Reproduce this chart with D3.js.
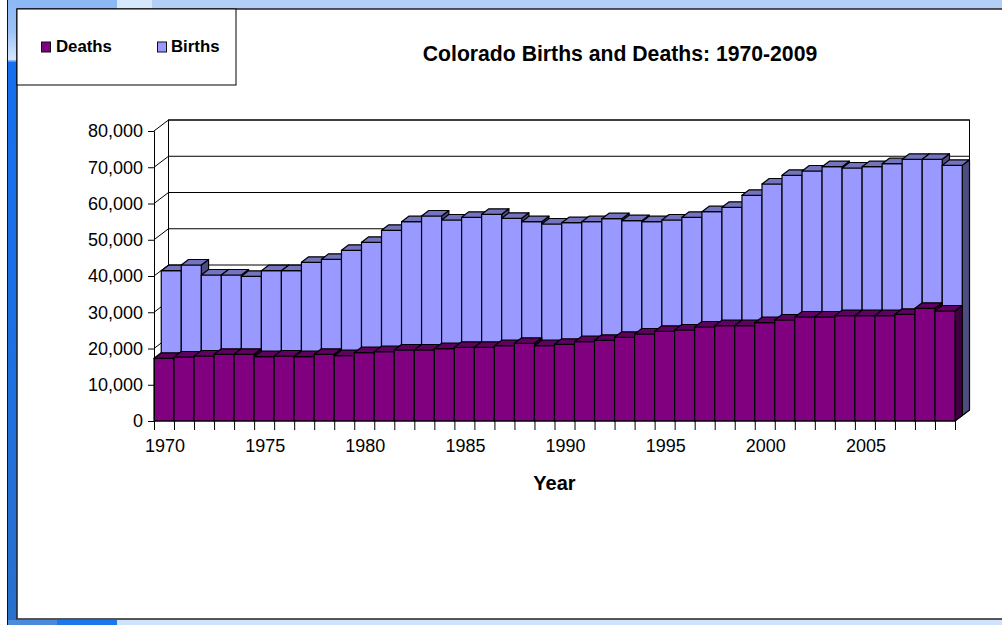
<!DOCTYPE html>
<html><head><meta charset="utf-8">
<script src="https://cdn.jsdelivr.net/npm/d3@7"></script>
<style>html,body{margin:0;padding:0;background:#fff;overflow:hidden}svg{display:block}text{font-family:"Liberation Sans",Arial,sans-serif;fill:#000}</style>
</head><body><svg id="c" width="1002" height="625"></svg>
<script>
const years = d3.range(1970, 2010);
const deaths = [17300,17655,17930,18400,18400,17740,17930,17740,18400,18010,18840,19120,19590,19590,19945,20330,20330,20770,21430,20770,21160,21880,22260,23090,24000,24745,25100,25930,26290,26290,27120,27860,28690,28690,29050,29050,29050,29430,31090,30345];
const births = [39945,41517,38758,38758,38400,39945,39945,42260,43090,45570,47780,51090,53460,55030,53930,54675,55500,54400,53460,52830,53190,53460,54290,53740,53460,53930,54675,56220,57430,60745,63860,66260,67450,68630,68275,68630,69460,70680,70680,69020];
const yTicks = [0,10000,20000,30000,40000,50000,60000,70000,80000];
const labelYears = [1970,1975,1980,1985,1990,1995,2000,2005];
const titleText = "Colorado Births and Deaths: 1970-2009";

const svg = d3.select("#c");
const defs = svg.append("defs");
const lg = defs.append("linearGradient").attr("id","side").attr("gradientUnits","userSpaceOnUse").attr("x1",0).attr("y1",0).attr("x2",0).attr("y2",625);
[[0,"#8cb8f5"],[0.05,"#9cc2f6"],[0.095,"#d4e6fc"],[0.1,"#1470f0"],[0.5,"#1c70e6"],[1,"#2a70cc"]].forEach(([o,c])=>lg.append("stop").attr("offset",o).attr("stop-color",c));
// desktop backdrop
svg.append("rect").attr("width",1002).attr("height",625).attr("fill","#cfe3fb");
svg.append("rect").attr("width",1002).attr("height",9).attr("fill","#b4cff5");
svg.append("rect").attr("x",0).attr("width",117).attr("height",9).attr("fill","#8cb8f5");
svg.append("rect").attr("x",117).attr("width",35).attr("height",9).attr("fill","#d8e8fc");
svg.append("rect").attr("x",0).attr("width",8).attr("height",625).attr("fill","#fff");
svg.append("rect").attr("x",7).attr("width",1).attr("height",625).attr("fill","#111");
svg.append("rect").attr("x",10).attr("y",0).attr("width",7).attr("height",625).attr("fill","url(#side)");
svg.append("rect").attr("x",8).attr("y",0).attr("width",2).attr("height",625).attr("fill","url(#side)");
svg.append("rect").attr("x",8).attr("y",620).attr("width",49).attr("height",5).attr("fill","#4c8bdb");
svg.append("rect").attr("x",57).attr("y",620).attr("width",60).attr("height",5).attr("fill","#1c78ec");
// panel
svg.append("rect").attr("x",17).attr("y",9).attr("width",990).attr("height",610).attr("fill","#fff").attr("stroke","#222").attr("stroke-width",1.5);

const x = d3.scaleLinear().domain([1970,2010]).range([154,955]);
const y = d3.scaleLinear().domain([0,80000]).range([421,131]);
const depthX = 14.5, depthY = 11;
const barW = (x(1971)-x(1970));

// back wall
const wall = svg.append("g").attr("fill","none").attr("stroke","#000").attr("stroke-width",1);
wall.append("rect").attr("x",x(1970)+depthX).attr("y",y(80000)-depthY).attr("width",x(2010)-x(1970)).attr("height",y(0)-y(80000)).attr("fill","#fff");
wall.selectAll("line.g").data(yTicks).join("line").attr("class","g")
  .attr("x1",x(1970)+depthX).attr("x2",x(2010)+depthX).attr("y1",d=>y(d)-depthY).attr("y2",d=>y(d)-depthY);
wall.selectAll("line.d").data(yTicks).join("line").attr("class","d")
  .attr("x1",x(1970)).attr("x2",x(1970)+depthX).attr("y1",d=>y(d)).attr("y2",d=>y(d)-depthY);
wall.append("line").attr("x1",x(2010)).attr("x2",x(2010)+depthX).attr("y1",y(0)).attr("y2",y(0)-depthY);

function drawRow(values, ox, oy, front, top, side){
  const dx = depthX/2, dy = depthY/2;
  const g = svg.append("g").attr("stroke","#000").attr("stroke-width",1.2).attr("stroke-linejoin","round");
  const bars = g.selectAll("g").data(values).join("g");
  const X = i => x(years[i]) + ox;
  const B = y(0) - oy;
  bars.append("path").attr("fill",side).attr("d",(d,i)=>{
    const r=X(i)+barW, t=y(d)-oy;
    return `M${r},${t}L${r+dx},${t-dy}L${r+dx},${B-dy}L${r},${B}Z`;});
  bars.append("rect").attr("fill",front).attr("x",(d,i)=>X(i)).attr("y",d=>y(d)-oy).attr("width",barW).attr("height",d=>B-(y(d)-oy));
  bars.append("path").attr("fill",top).attr("d",(d,i)=>{
    const l=X(i), t=y(d)-oy;
    return `M${l},${t}L${l+dx},${t-dy}L${l+barW+dx},${t-dy}L${l+barW},${t}Z`;});
}
drawRow(births, depthX/2, depthY/2, "#9999ff", "#7373bf", "#4d4d80");
drawRow(deaths, 0, 0, "#800080", "#600060", "#400040");

// axes
const yAxis = d3.axisLeft(y).tickValues(yTicks).tickFormat(d3.format(",")).tickSize(6).tickPadding(5);
const gy = svg.append("g").attr("transform",`translate(${x(1970)},0)`).call(yAxis);
gy.selectAll("text").style("font-size","18px").attr("fill","#000");
gy.selectAll("line,path").attr("stroke","#000");
const xAxis = d3.axisBottom(x).tickValues(d3.range(1970,2011)).tickFormat(d=>labelYears.includes(d)?String(d):"").tickSize(9).tickPadding(9);
const gx = svg.append("g").attr("transform",`translate(0,${y(0)})`).call(xAxis);
gx.selectAll("text").style("font-size","18px").attr("dx",barW/2+0.5).attr("fill","#000");
gx.selectAll("line,path").attr("stroke","#000");
gx.select("path").attr("d",`M${x(1970)},0H${x(2010)}`);

// texts
svg.append("text").attr("x",620).attr("y",61).attr("text-anchor","middle").attr("font-weight","bold").style("font-size","21.2px").text(titleText);
svg.append("text").attr("x",554.5).attr("y",490).attr("text-anchor","middle").attr("font-weight","bold").style("font-size","20px").text("Year");

// legend
svg.append("rect").attr("x",17).attr("y",9).attr("width",219).attr("height",76).attr("fill","#fff").attr("stroke","#000");
const legend = [["Deaths","#800080",41,56],["Births","#9999ff",157,171]];
legend.forEach(([t,c,sx,tx])=>{
  svg.append("rect").attr("x",sx+0.5).attr("y",42).attr("width",9).attr("height",10).attr("fill",c).attr("stroke","#111");
  svg.append("text").attr("x",tx).attr("y",52).attr("font-weight","bold").style("font-size","16.8px").text(t);
});
</script></body></html>
